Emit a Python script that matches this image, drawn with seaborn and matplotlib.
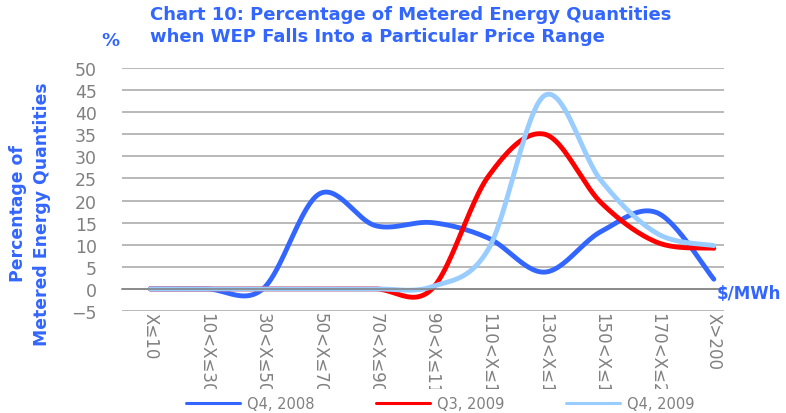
import numpy as np
import pandas as pd
import matplotlib
matplotlib.use("Agg")
import matplotlib.pyplot as plt
from matplotlib.lines import Line2D
from matplotlib.transforms import Bbox, TransformedBbox
import seaborn as sns

# Price bands ($/MWh) and share of metered energy (%) in each band
categories = ["X≤10", "10<X≤30", "30<X≤50", "50<X≤70", "70<X≤90", "90<X≤110",
              "110<X≤130", "130<X≤150", "150<X≤170", "170<X≤200", "X>200"]
q4_2008 = [0, 0, 0, 21.5, 14.3, 15.0, 11.5, 3.8, 13.0, 17.2, 2.2]
q3_2009 = [0, 0, 0, 0, 0, 0, 25.5, 35.0, 19.5, 10.5, 9.2]
q4_2009 = [0, 0, 0, 0, 0, 0.5, 9.0, 43.8, 24.5, 12.5, 9.8]

series = [("Q4, 2008", q4_2008, "#3366FF"),
          ("Q3, 2009", q3_2009, "#FF0000"),
          ("Q4, 2009", q4_2009, "#99CCFF")]

BLUE = "#3366FF"
GREY = "#808080"


def smooth_curve(xs, ys, n=40):
    """Bezier smoothing through every point (control points at 1/6 of neighbour span)."""
    pts = np.column_stack([xs, ys]).astype(float)
    P = np.vstack([pts[0], pts, pts[-1]])
    t = np.linspace(0, 1, n, endpoint=False)[:, None]
    segs = []
    for i in range(1, len(P) - 2):
        p0, p1, p2, p3 = P[i - 1], P[i], P[i + 1], P[i + 2]
        c1 = p1 + (p2 - p0) / 6
        c2 = p2 - (p3 - p1) / 6
        segs.append((1 - t) ** 3 * p1 + 3 * (1 - t) ** 2 * t * c1
                    + 3 * (1 - t) * t ** 2 * c2 + t ** 3 * p2)
    segs.append(pts[-1:])
    out = np.vstack(segs)
    return out[:, 0], out[:, 1]


sns.set_theme(style="white")
plt.rcParams["font.family"] = ["DejaVu Sans"]

fig = plt.figure(figsize=(7.86, 4.14), dpi=100)
ax = fig.add_axes([122 / 786, 1 - 312 / 414, 602 / 786, 243 / 414])

xpos = np.arange(len(categories))
for name, vals, col in series:
    sx, sy = smooth_curve(xpos, vals)
    df = pd.DataFrame({"x": sx, "y": sy})
    sns.lineplot(data=df, x="x", y="y", sort=False, estimator=None, ax=ax,
                 color=col, lw=3.5, solid_capstyle="round", legend=False)

ax.set_xlim(-0.5, 10.18)
ax.set_ylim(-5, 50)
ax.set_xlabel("")
ax.set_ylabel("")

# y axis: gridlines and grey labels, no spine
ax.set_yticks(np.arange(-5, 51, 5))
ax.yaxis.grid(True, color="#A6A6A6", lw=1.1)
ax.xaxis.grid(False)
ax.tick_params(axis="y", length=0, pad=18, labelsize=12.5, labelcolor=GREY)
for s in ["left", "right", "top"]:
    ax.spines[s].set_visible(False)

# category axis crossing at zero with boundary ticks
ax.spines["bottom"].set_position(("data", 0))
ax.spines["bottom"].set_color(GREY)
ax.spines["bottom"].set_linewidth(1.1)
ax.set_xticks([])
ax.set_xticks(np.arange(-0.5, 10.5, 1.0), minor=True)
ax.tick_params(axis="x", which="minor", direction="out", length=4.5,
               width=1.1, color=GREY, labelbottom=False)

# rotated category labels below the plot, cut off at the chart edge
clip = TransformedBbox(Bbox.from_extents(0, 24 / 414, 1, 1), fig.transFigure)
for i, lab in enumerate(categories):
    t = ax.text(xpos[i], -0.005, lab, transform=ax.get_xaxis_transform(),
                rotation=270, ha="center", va="top", fontsize=12,
                color=GREY, clip_on=True, rotation_mode="default")
    t.set_clip_path(None)
    t.set_clip_box(clip)

# titles and axis captions
fig.text(150 / 786, 1 - 15 / 414, "Chart 10: Percentage of Metered Energy Quantities",
         ha="left", va="center", fontsize=13, fontweight="bold", color=BLUE)
fig.text(150 / 786, 1 - 37 / 414, "when WEP Falls Into a Particular Price Range",
         ha="left", va="center", fontsize=13, fontweight="bold", color=BLUE)
fig.text(110 / 786, 1 - 41 / 414, "%", ha="center", va="center",
         fontsize=13, fontweight="bold", color=BLUE)
fig.text(30 / 786, 1 - 214 / 414, "Percentage of\nMetered Energy Quantities",
         rotation=90, ha="center", va="center", multialignment="center",
         linespacing=1.45, fontsize=12.4, fontweight="bold", color=BLUE)
fig.text(717 / 786, 1 - 294 / 414, "$/MWh", ha="left", va="center",
         fontsize=12, fontweight="bold", color=BLUE)

handles = [Line2D([0], [0], color=c, lw=2.2) for _, _, c in series]
fig.legend(handles, [n for n, _, _ in series], loc="center",
           bbox_to_anchor=(440 / 786, 1 - 405 / 414), ncol=3, frameon=False,
           fontsize=10.5, labelcolor=GREY, handlelength=3.7,
           handletextpad=0.5, columnspacing=4.2)

fig.savefig("out.png", dpi=100)
